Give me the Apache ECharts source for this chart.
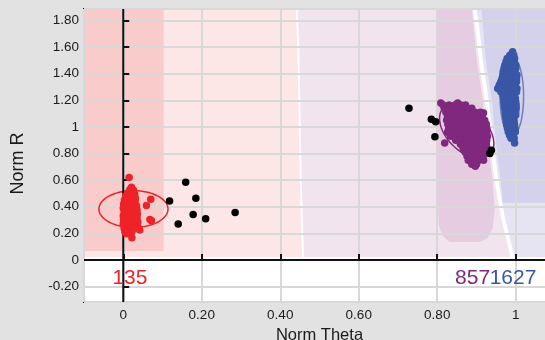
<!DOCTYPE html>
<html>
<head>
<meta charset="utf-8">
<script src="https://cdn.jsdelivr.net/npm/echarts@6/dist/echarts.min.js"></script>
<style>
  html, body { margin: 0; padding: 0; background: #e2e2e2; }
  #chart { width: 545px; height: 340px; }
</style>
</head>
<body>
<div id="chart"></div>
<script>
// Axis extents (Norm Theta / Norm R)
const xExtent = [-0.1, 1.1];
const yExtent = [-0.316, 1.887];

// Cluster colours and point counts
const clusterColors = ['#ee2228', '#80287e', '#3a56a6'];
const clusterCounts = [135, 857, 1627];
const countLabelX = [0.017, 0.89, 0.993];
const countLabelY = -0.135;

// Shaded decision regions (Norm Theta, Norm R vertices)
const regionPinkLight = [[-0.1, 0.023], [0.4555, 0.023], [0.4497, 0.6], [0.4437, 1.579], [0.4395, 1.887], [-0.1, 1.887]];
const regionPinkDark = [[-0.1, 0.068], [0.103, 0.068], [0.103, 1.887], [-0.1, 1.887]];
const regionLavender = [[0.4605, 0.023], [0.4547, 0.6], [0.4487, 1.579], [0.4445, 1.887], [0.891, 1.887], [0.898, 1.729],
  [0.906, 1.504], [0.921, 1.203], [0.936, 0.827], [0.947, 0.579], [0.962, 0.323], [0.987, 0.023]];
const regionPurpleDark = [[0.8013, 1.887], [0.888, 1.887], [0.9006, 1.504], [0.9159, 1.203], [0.9312, 0.827], [0.9414, 0.579],
  [0.9465, 0.376], [0.9414, 0.241], [0.9287, 0.165], [0.9083, 0.135], [0.8318, 0.135], [0.814, 0.18], [0.8038, 0.263], [0.8013, 0.451]];
const regionBlueLight = [[0.9, 1.887], [1.1, 1.887], [1.1, 0.023], [0.997, 0.023], [0.972, 0.323], [0.957, 0.579],
  [0.946, 0.827], [0.931, 1.203], [0.916, 1.504], [0.908, 1.729]];
const regionBlueDark = [[0.913, 1.887], [1.1, 1.887], [1.1, 0.43], [0.9669, 0.43], [0.9618, 0.6], [0.9516, 0.827],
  [0.9389, 1.203], [0.9236, 1.504]];
const regionColors = ['#fde6e6', '#f9cbcb', '#f2e4ef', '#e6cce1', '#e6e4f3', '#d3d1eb'];

// Covariance ellipses: centre and two conjugate semi-axes
const ellipseCenters = [[0.026, 0.383], [0.875, 0.97], [0.99, 1.23]];
const ellipseAxisU = [[0.088, 0], [0.059, -0.175], [0.03, 0]];
const ellipseAxisV = [[0, 0.138], [0.036, 0.106], [0, 0.30]];
const ellipseColors = ['#ee2228', '#80287e', '#6b7fc2'];

// Samples per cluster
const redPoints = [
  [0.015, 0.62], [0.070, 0.456], [0.059, 0.41], [0.068, 0.305], [0.072, 0.295], [0.042, 0.225], [0.022, 0.168],
  [0.021, 0.547], [0.017, 0.53], [0.026, 0.525], [0.012, 0.505], [0.022, 0.50], [0.029, 0.495],
  [0.006, 0.48], [0.016, 0.475], [0.025, 0.47], [0.031, 0.465],
  [0.003, 0.45], [0.012, 0.445], [0.021, 0.44], [0.030, 0.438],
  [0.001, 0.42], [0.010, 0.415], [0.019, 0.41], [0.028, 0.41], [0.034, 0.405],
  [0.000, 0.39], [0.009, 0.385], [0.018, 0.38], [0.027, 0.38], [0.035, 0.375],
  [0.002, 0.36], [0.011, 0.355], [0.020, 0.35], [0.029, 0.35], [0.036, 0.345],
  [0.000, 0.33], [0.009, 0.325], [0.018, 0.32], [0.027, 0.32], [0.035, 0.315],
  [0.001, 0.30], [0.010, 0.295], [0.019, 0.29], [0.028, 0.29], [0.037, 0.285],
  [0.000, 0.27], [0.009, 0.265], [0.018, 0.26], [0.027, 0.26], [0.036, 0.255],
  [0.002, 0.24], [0.011, 0.235], [0.020, 0.232], [0.030, 0.24], [0.038, 0.245],
  [0.004, 0.215], [0.013, 0.21], [0.022, 0.212], [0.008, 0.198]
];
const purplePoints = [
  [0.809, 1.18], [0.852, 1.18],
  [0.815, 1.165], [0.83, 1.165], [0.845, 1.165], [0.86, 1.165], [0.872, 1.165],
  [0.818, 1.14], [0.832, 1.14], [0.847, 1.14], [0.862, 1.14], [0.877, 1.14], [0.888, 1.14],
  [0.822, 1.11], [0.836, 1.11], [0.851, 1.11], [0.866, 1.11], [0.881, 1.11], [0.896, 1.11], [0.91, 1.11], [0.918, 1.105],
  [0.826, 1.08], [0.84, 1.08], [0.855, 1.08], [0.87, 1.08], [0.885, 1.08], [0.9, 1.08], [0.914, 1.08],
  [0.824, 1.05], [0.838, 1.05], [0.853, 1.05], [0.868, 1.05], [0.883, 1.05], [0.898, 1.05], [0.912, 1.05], [0.921, 1.05],
  [0.827, 1.02], [0.842, 1.02], [0.857, 1.02], [0.872, 1.02], [0.887, 1.02], [0.902, 1.02], [0.916, 1.02], [0.925, 1.02],
  [0.829, 0.99], [0.844, 0.99], [0.859, 0.99], [0.874, 0.99], [0.889, 0.99], [0.904, 0.99], [0.918, 0.99], [0.926, 0.99],
  [0.826, 0.96], [0.841, 0.96], [0.856, 0.96], [0.871, 0.96], [0.886, 0.96], [0.901, 0.96], [0.915, 0.96], [0.926, 0.96],
  [0.834, 0.93], [0.849, 0.93], [0.862, 0.93], [0.877, 0.93], [0.892, 0.93], [0.907, 0.93], [0.92, 0.93], [0.928, 0.93],
  [0.847, 0.90], [0.86, 0.90], [0.872, 0.90], [0.885, 0.90], [0.9, 0.90], [0.914, 0.90], [0.926, 0.90],
  [0.859, 0.87], [0.87, 0.87], [0.882, 0.87], [0.897, 0.87], [0.912, 0.87], [0.925, 0.87],
  [0.866, 0.84], [0.876, 0.84], [0.888, 0.84], [0.903, 0.84], [0.917, 0.84], [0.927, 0.84],
  [0.871, 0.81], [0.883, 0.81], [0.896, 0.81], [0.91, 0.81], [0.922, 0.81],
  [0.876, 0.78], [0.889, 0.78], [0.902, 0.78], [0.916, 0.78],
  [0.879, 0.75], [0.891, 0.75], [0.906, 0.75], [0.918, 0.75],
  [0.888, 0.72], [0.9, 0.72], [0.897, 0.705],
  [0.819, 0.88]
];
const bluePoints = [
  [0.992, 1.565],
  [0.985, 1.54], [0.995, 1.54],
  [0.978, 1.515], [0.988, 1.515], [0.997, 1.515],
  [0.975, 1.49], [0.985, 1.49], [0.995, 1.49],
  [0.972, 1.465], [0.982, 1.465], [0.992, 1.465], [1.0, 1.465],
  [0.97, 1.44], [0.98, 1.44], [0.99, 1.44], [1.0, 1.44],
  [0.968, 1.415], [0.978, 1.415], [0.988, 1.415], [0.998, 1.415],
  [0.967, 1.39], [0.977, 1.39], [0.987, 1.39], [0.997, 1.39], [1.003, 1.39],
  [0.965, 1.365], [0.975, 1.365], [0.985, 1.365], [0.995, 1.365], [1.002, 1.365],
  [0.962, 1.34], [0.972, 1.34], [0.982, 1.34], [0.992, 1.34], [1.002, 1.34],
  [0.958, 1.315], [0.968, 1.315], [0.978, 1.315], [0.988, 1.315], [0.998, 1.315],
  [0.954, 1.29], [0.964, 1.29], [0.975, 1.29], [0.985, 1.29], [0.995, 1.29], [1.003, 1.29],
  [0.962, 1.265], [0.972, 1.265], [0.982, 1.265], [0.992, 1.265], [1.002, 1.265],
  [0.967, 1.24], [0.977, 1.24], [0.987, 1.24], [0.997, 1.24],
  [0.969, 1.215], [0.979, 1.215], [0.989, 1.215], [0.999, 1.215],
  [0.97, 1.19], [0.98, 1.19], [0.99, 1.19], [1.0, 1.19],
  [0.971, 1.165], [0.981, 1.165], [0.991, 1.165], [1.001, 1.165],
  [0.972, 1.14], [0.982, 1.14], [0.992, 1.14], [1.001, 1.14],
  [0.973, 1.115], [0.983, 1.115], [0.993, 1.115], [1.0, 1.115],
  [0.974, 1.09], [0.984, 1.09], [0.994, 1.09], [1.0, 1.09],
  [0.975, 1.065], [0.985, 1.065], [0.995, 1.065],
  [0.976, 1.04], [0.986, 1.04], [0.996, 1.04],
  [0.977, 1.015], [0.987, 1.015], [0.997, 1.015],
  [0.979, 0.99], [0.989, 0.99], [0.998, 0.99],
  [0.981, 0.965], [0.991, 0.965], [0.999, 0.965],
  [0.984, 0.94], [0.994, 0.94],
  [0.988, 0.915], [0.996, 0.915],
  [0.997, 0.88]
];
// Samples not assigned to any cluster
const noisePoints = [
  [0.118, 0.443], [0.159, 0.584], [0.185, 0.464], [0.178, 0.342], [0.14, 0.27], [0.21, 0.31], [0.285, 0.356],
  [0.728, 1.14], [0.785, 1.058], [0.796, 1.04], [0.794, 0.927], [0.934, 0.80], [0.938, 0.825]
];

const regions = [regionPinkLight, regionPinkDark, regionLavender, regionPurpleDark, regionBlueLight, regionBlueDark];

const fontFamily = '"Liberation Sans", Arial, Helvetica, sans-serif';
const tickFormatter = function (v) {
  const r = Math.round(v);
  return Math.abs(v - r) < 1e-9 ? String(r) : v.toFixed(2);
};

const chart = echarts.init(document.getElementById('chart'), null, { renderer: 'canvas' });

const axisCommon = {
  type: 'value',
  z: 2,
  nameLocation: 'middle',
  nameTextStyle: { color: '#1a1a1a', fontFamily: fontFamily },
  axisLine: { show: false },
  axisTick: { show: true, inside: true, length: 6, lineStyle: { color: '#111', width: 2 } },
  axisLabel: { color: '#1a1a1a', fontFamily: fontFamily, fontSize: 13.5, formatter: tickFormatter, showMinLabel: false, showMaxLabel: false },
  splitLine: { show: true, lineStyle: { color: '#d8d8d8', width: 2 } }
};

const option = {
  backgroundColor: '#e2e2e2',
  animation: false,
  grid: {
    show: true, z: 2, left: 84, right: -10, top: 9, bottom: 38,
    outerBoundsMode: 'none', containLabel: false,
    backgroundColor: 'transparent', borderColor: '#111', borderWidth: 2
  },
  xAxis: Object.assign({}, axisCommon, {
    min: xExtent[0], max: xExtent[1], splitNumber: 6,
    name: 'Norm Theta', nameGap: 21,
    nameTextStyle: Object.assign({}, axisCommon.nameTextStyle, { fontSize: 16.5 }),
    axisLabel: Object.assign({}, axisCommon.axisLabel, { margin: 6 })
  }),
  yAxis: Object.assign({}, axisCommon, {
    min: yExtent[0], max: yExtent[1], splitNumber: 11,
    name: 'Norm R', nameGap: 57,
    nameTextStyle: Object.assign({}, axisCommon.nameTextStyle, { fontSize: 18, padding: [0, 16, 0, 0] }),
    axisLabel: Object.assign({}, axisCommon.axisLabel, { margin: 5 })
  }),
  series: [
    {
      // plot background and shaded regions
      type: 'custom', z: 1, silent: true,
      data: [-1].concat(regions.map(function (_, i) { return i; })),
      renderItem: function (params, api) {
        const idx = api.value(0);
        if (idx < 0) {
          const p0 = api.coord([xExtent[0], yExtent[1]]);
          const p1 = api.coord([xExtent[1], yExtent[0]]);
          return { type: 'rect', shape: { x: p0[0], y: p0[1], width: p1[0] - p0[0], height: p1[1] - p0[1] }, style: { fill: '#ffffff' } };
        }
        return {
          type: 'polygon',
          shape: { points: regions[idx].map(function (p) { return api.coord(p); }) },
          style: { fill: regionColors[idx] }
        };
      }
    },
    {
      type: 'line', z: 3, silent: true, symbol: 'none',
      data: [[0, yExtent[0]], [0, yExtent[1]]],
      lineStyle: { color: '#111', width: 2 }
    },
    {
      type: 'line', z: 3, silent: true, symbol: 'none',
      data: [[xExtent[0], 0], [xExtent[1], 0]],
      lineStyle: { color: '#111', width: 2 }
    },
    {
      // covariance ellipses
      type: 'custom', z: 3, silent: true,
      data: ellipseCenters.map(function (_, i) { return i; }),
      renderItem: function (params, api) {
        const i = api.value(0);
        const c = ellipseCenters[i], u = ellipseAxisU[i], v = ellipseAxisV[i];
        const pts = [];
        for (let k = 0; k <= 96; k++) {
          const t = k / 96 * Math.PI * 2;
          pts.push(api.coord([c[0] + Math.cos(t) * u[0] + Math.sin(t) * v[0], c[1] + Math.cos(t) * u[1] + Math.sin(t) * v[1]]));
        }
        return { type: 'polyline', shape: { points: pts }, style: { stroke: ellipseColors[i], lineWidth: 1.5, fill: null } };
      }
    },
    { type: 'scatter', z: 4, symbolSize: 7.5, data: redPoints, itemStyle: { color: clusterColors[0], opacity: 1 } },
    { type: 'scatter', z: 4, symbolSize: 7.5, data: purplePoints, itemStyle: { color: clusterColors[1], opacity: 1 } },
    { type: 'scatter', z: 4, symbolSize: 7.5, data: bluePoints, itemStyle: { color: clusterColors[2], opacity: 1 } },
    { type: 'scatter', z: 5, symbolSize: 7.5, data: noisePoints, itemStyle: { color: '#000', opacity: 1 } },
    {
      // cluster sizes
      type: 'custom', z: 5, silent: true,
      data: clusterCounts.map(function (n, i) { return [countLabelX[i], countLabelY, n, i]; }),
      renderItem: function (params, api) {
        const p = api.coord([api.value(0), api.value(1)]);
        const i = api.value(3);
        return {
          type: 'text',
          x: p[0], y: p[1],
          style: {
            text: String(api.value(2)), fill: clusterColors[i],
            fontSize: 21, fontFamily: fontFamily, align: 'center', verticalAlign: 'middle'
          }
        };
      }
    }
  ]
};

chart.setOption(option);
</script>
</body>
</html>
